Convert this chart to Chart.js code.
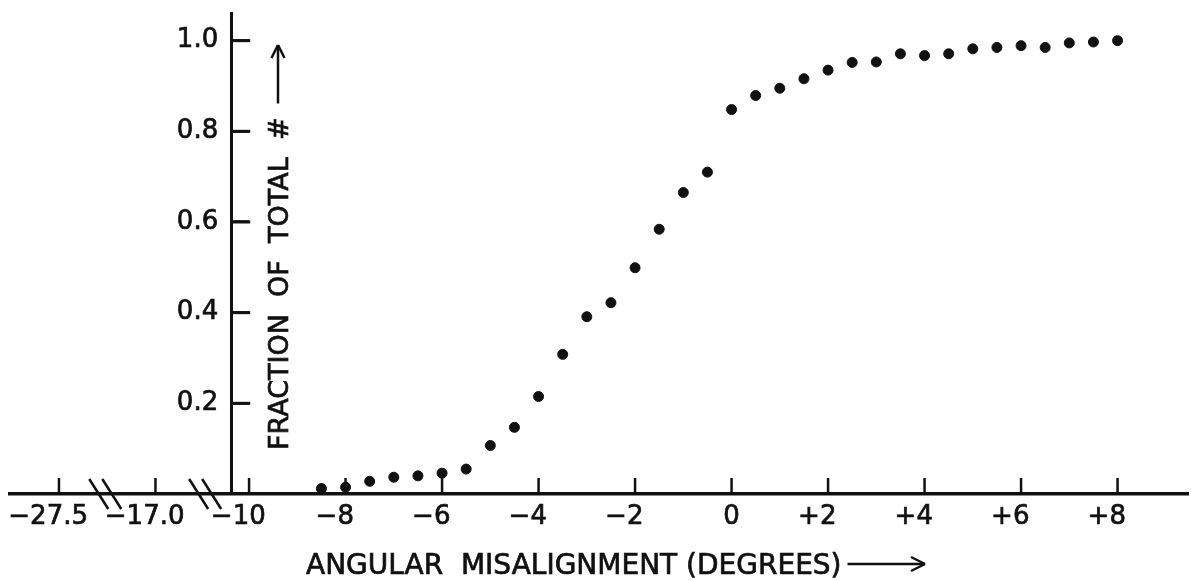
<!DOCTYPE html>
<html>
<head>
<meta charset="utf-8">
<script src="https://cdn.jsdelivr.net/npm/chart.js@4.4.1/dist/chart.umd.min.js"></script>
<style>
  html, body { margin: 0; padding: 0; background: #ffffff; }
  canvas { display: block; }
</style>
</head>
<body>
<canvas id="chart" width="1194" height="581"></canvas>
<script>
// ---- data ----
const angles = [-8.5, -8, -7.5, -7, -6.5, -6, -5.5, -5, -4.5, -4, -3.5, -3, -2.5, -2, -1.5, -1, -0.5,
                0, 0.5, 1, 1.5, 2, 2.5, 3, 3.5, 4, 4.5, 5, 5.5, 6, 6.5, 7, 7.5, 8];
const fractions = [0.012, 0.015, 0.028, 0.037, 0.040, 0.046, 0.055, 0.107, 0.147, 0.215, 0.308, 0.391, 0.422, 0.499, 0.584, 0.665, 0.710,
                   0.848, 0.879, 0.895, 0.916, 0.935, 0.952, 0.953, 0.971, 0.967, 0.971, 0.982, 0.985, 0.989, 0.985, 0.995, 0.997, 1.000];

// ---- axes ----
// the axis is broken: -27.5 and -17.0 sit on a compressed stretch left of -10
const xTickPositions = [-13.94, -11.94, -10, -8, -6, -4, -2, 0, 2, 4, 6, 8];
const xTickLabels = ['\u221227.5', '\u221217.0', '\u221210', '\u22128', '\u22126', '\u22124', '\u22122', '0', '+2', '+4', '+6', '+8'];
const breakPositions = [-12.98, -10.91];
const yTickValues = [0.2, 0.4, 0.6, 0.8, 1.0];
const yTickLabels = ['0.2', '0.4', '0.6', '0.8', '1.0'];
const yAxisAt = -10.37;
const X_MIN = -14.97, X_MAX = 9.46, Y_MIN = 0, Y_MAX = 1.061;

const xTitle = 'ANGULAR  MISALIGNMENT (DEGREES)';
const yTitle = 'FRACTION  OF  TOTAL  #';

const INK = '#111111';
const FONT = '"DejaVu Sans", "Liberation Sans", sans-serif';
const SIGN_PAD = '\u2002\u2004';
const LABEL_GAP = '\u2002';

function strokeLine(ctx, x1, y1, x2, y2, w) {
  ctx.lineWidth = w;
  ctx.beginPath(); ctx.moveTo(x1, y1); ctx.lineTo(x2, y2); ctx.stroke();
}

function inkText(ctx, text, x, y) {
  ctx.fillText(text, x, y);
  ctx.lineWidth = 0.7;
  ctx.strokeText(text, x, y);
}

const paperAxes = {
  id: 'paperAxes',
  afterDraw(chart) {
    const { ctx } = chart;
    const x = chart.scales.x, y = chart.scales.y;
    ctx.save();
    ctx.setLineDash([]);
    ctx.strokeStyle = INK;
    ctx.fillStyle = INK;
    ctx.lineCap = 'butt';

    const y0 = y.getPixelForValue(Y_MIN);
    const ax = x.getPixelForValue(yAxisAt);

    // y tick marks (pointing right, into the plot)
    for (const v of yTickValues) {
      const py = y.getPixelForValue(v);
      strokeLine(ctx, ax, py, ax + 19, py, 3);
    }

    // x tick marks (pointing up)
    for (const v of xTickPositions) {
      const px = x.getPixelForValue(v);
      strokeLine(ctx, px, y0, px, y0 - 16, 2.5);
    }

    // axis break marks
    for (const v of breakPositions) {
      const cx = x.getPixelForValue(v);
      for (const o of [-6.5, 6.5]) strokeLine(ctx, cx + o - 9.5, y0 - 15, cx + o + 9.5, y0 + 15, 2.5);
    }

    // x title + arrow
    ctx.font = '28px ' + FONT;
    ctx.textAlign = 'left';
    ctx.textBaseline = 'alphabetic';
    inkText(ctx, xTitle, 306, 574);
    const wx = ctx.measureText(xTitle).width;
    const ayx = 564, x0a = 306 + wx + 6, x1a = 925;
    strokeLine(ctx, x0a, ayx, x1a, ayx, 2.5);
    strokeLine(ctx, x1a, ayx, x1a - 14, ayx - 7, 2.5);
    strokeLine(ctx, x1a, ayx, x1a - 14, ayx + 7, 2.5);

    // y title + arrow (rotated)
    ctx.save();
    ctx.font = '27px ' + FONT;
    ctx.translate(288, 450);
    ctx.rotate(-Math.PI / 2);
    inkText(ctx, yTitle, 0, 0);
    const wy = ctx.measureText(yTitle).width;
    const ay = -10, y0a = wy + 14, y1a = 405;
    strokeLine(ctx, y0a, ay, y1a, ay, 2.5);
    strokeLine(ctx, y1a, ay, y1a - 13, ay - 6.5, 2.5);
    strokeLine(ctx, y1a, ay, y1a - 13, ay + 6.5, 2.5);
    ctx.restore();

    ctx.restore();
  }
};

new Chart(document.getElementById('chart'), {
  type: 'scatter',
  data: {
    datasets: [{
      data: angles.map((a, i) => ({ x: a, y: fractions[i] })),
      backgroundColor: INK,
      borderColor: INK,
      pointRadius: 5,
      pointHoverRadius: 5,
      showLine: false
    }]
  },
  options: {
    responsive: false,
    animation: false,
    devicePixelRatio: 1,
    layout: { padding: { left: 8, right: 6, top: 13, bottom: 0 } },
    plugins: { legend: { display: false }, tooltip: { enabled: false }, title: { display: false } },
    scales: {
      x: {
        type: 'linear',
        position: 'bottom',
        min: X_MIN, max: X_MAX,
        afterBuildTicks: s => { s.ticks = xTickPositions.map(v => ({ value: v })); },
        afterFit: s => { s.height = 87; },
        grid: { display: false, drawTicks: false },
        border: { display: true, color: INK, width: 3.5 },
        ticks: {
          autoSkip: false, maxRotation: 0, minRotation: 0,
          padding: 8,
          color: INK,
          textStrokeColor: INK,
          textStrokeWidth: 0.7,
          font: { family: FONT, size: 26, lineHeight: 1.2 },
          callback: (v, i) => {
            const l = xTickLabels[i];
            return /^[\u2212+]/.test(l) ? l + SIGN_PAD : l;
          }
        }
      },
      y: {
        type: 'linear',
        position: { x: yAxisAt },
        min: Y_MIN, max: Y_MAX,
        afterBuildTicks: s => { s.ticks = yTickValues.map(v => ({ value: v })); },
        grid: {
          display: true, drawOnChartArea: false, drawTicks: true,
          tickLength: -19, tickWidth: 2.5, tickColor: INK
        },
        border: { display: true, color: INK, width: 3 },
        ticks: {
          autoSkip: false,
          padding: 0,
          color: INK,
          textStrokeColor: INK,
          textStrokeWidth: 0.7,
          font: { family: FONT, size: 26, lineHeight: 1 },
          callback: (v, i) => yTickLabels[i] + LABEL_GAP
        }
      }
    }
  },
  plugins: [paperAxes]
});
</script>
</body>
</html>
